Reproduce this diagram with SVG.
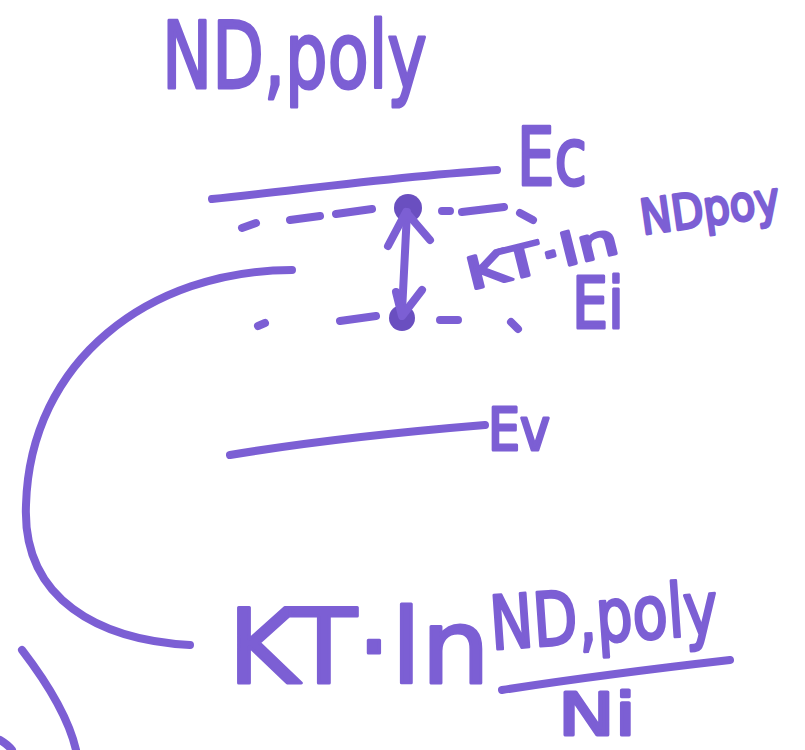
<svg xmlns="http://www.w3.org/2000/svg" width="805" height="750" viewBox="0 0 805 750">
<style>
.s{fill:none;stroke:#7c5fd4;stroke-width:8;stroke-linecap:round;stroke-linejoin:round}
.t{fill:#7c5fd4;stroke:#7c5fd4;stroke-width:3;stroke-linejoin:round;font-family:"DejaVu Sans",sans-serif}
.b{fill:#6a4fc0}
</style>
<rect width="805" height="750" fill="#ffffff"/>
<g id="title"><text class="t" x="162" y="88" font-size="92" textLength="265" lengthAdjust="spacingAndGlyphs">ND,poly</text></g>
<g id="Ec">
<path class="s" d="M212,199 C300,190 400,176 497,170"/>
<text class="t" x="517" y="185" font-size="80" textLength="70" lengthAdjust="spacingAndGlyphs">Ec</text>
</g>
<g id="Ef">
<path class="s" d="M242,228 L256,223 M290,220 L320,216 M336,214 L372,209 M442,211 L450,211 M462,212 L504,207 M520,213 L533,220"/>
<circle class="b" cx="408" cy="208" r="14"/>
<text class="t" x="640" y="225" font-size="48" textLength="140" lengthAdjust="spacingAndGlyphs" transform="rotate(-8 710 210)">NDpoy</text>
</g>
<g id="Ei">
<path class="s" d="M258,326 L265,323 M340,321 L376,316 M440,320 L458,320 M511,322 L518,329"/>
<circle class="b" cx="402" cy="318" r="13"/>
<text class="t" x="572" y="328" font-size="72" textLength="52" lengthAdjust="spacingAndGlyphs">Ei</text>
</g>
<g id="kt-small"><text class="t" x="463" y="272" font-size="44" textLength="155" lengthAdjust="spacingAndGlyphs" transform="rotate(-14 540 250)">KT·ln</text></g>
<g id="Ev">
<path class="s" d="M230,455 C320,440 400,432 485,425"/>
<text class="t" x="488" y="450" font-size="58" textLength="62" lengthAdjust="spacingAndGlyphs">Ev</text>
</g>
<g id="formula">
<text class="t" x="228" y="683" font-size="104" textLength="262" lengthAdjust="spacingAndGlyphs">KT·ln</text>
<text class="t" x="490" y="642" font-size="74" textLength="228" lengthAdjust="spacingAndGlyphs" transform="rotate(-4 600 620)">ND,poly</text>
<path class="s" d="M502,690 C580,678 660,668 730,660"/>
<text class="t" x="558" y="735" font-size="58" textLength="78" lengthAdjust="spacingAndGlyphs">Ni</text>
</g>
<g id="connectors">
<path class="s" d="M407,212 L402,312"/>
<path class="s" d="M388,246 L406,212 L430,240"/>
<path class="s" d="M396,292 L402,316 L422,290"/>
<path class="s" d="M292,270 C150,270 30,360 26,505 C22,600 100,640 190,645"/>
<path class="s" d="M22,650 C45,680 68,715 76,750"/>
<path class="s" d="M0,740 C5,743 9,746 12,750"/>
</g>
</svg>
